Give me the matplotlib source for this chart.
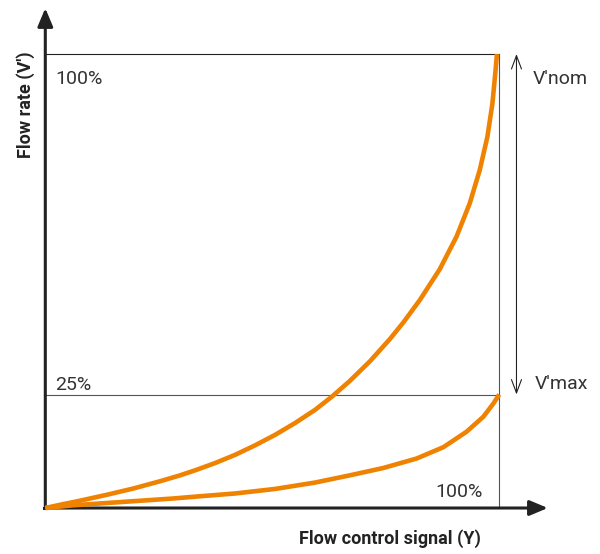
import numpy as np
import matplotlib
matplotlib.use("Agg")
import matplotlib.pyplot as plt

plt.rcParams['font.family'] = ['Roboto', 'DejaVu Sans']

# Flow control signal Y [%] vs. flow rate V' [%]
signal_upper = [0, 3.2, 7.6, 13.5, 19.4, 25.3, 29.7, 33.0, 37.4, 41.8, 46.2, 50.6, 55.0, 59.4,
                63.1, 67.1, 71.5, 75.9, 78.9, 82.5, 86.9, 90.6, 93.5, 95.7, 97.4, 98.5, 99.2, 99.5]
flow_upper = [0, 0.7, 1.6, 2.9, 4.3, 5.9, 7.2, 8.3, 9.9, 11.7, 13.8, 16.1, 18.7, 21.6,
              24.5, 28.0, 32.3, 37.2, 40.9, 45.8, 52.6, 59.8, 67.1, 74.4, 81.8, 89.1, 96.5, 100]

signal_lower = [0, 6.2, 13.5, 20.9, 28.2, 33.0, 41.8, 50.6, 59.4, 67.1, 74.4, 81.8, 87.7,
                92.8, 96.5, 98.7, 100]
flow_lower = [0, 0.6, 1.1, 1.6, 2.1, 2.5, 3.2, 4.2, 5.6, 7.2, 8.8, 10.9, 13.4,
              16.8, 20.1, 23.0, 25]

v_nom = 100  # [%]
v_max = 25   # [%]
y_max = 100  # [%]

orange = '#ef8200'
dark = '#222222'
text_col = '#333333'

fig = plt.figure(figsize=(6, 5.54), dpi=100)
ax = fig.add_axes([0, 0, 1, 1])
ax.set_xlim(-9.98, 122.2)
ax.set_ylim(-10.13, 111.9)
ax.axis('off')

# reference lines
ax.plot([0, y_max], [v_nom, v_nom], color=dark, lw=0.8)
ax.plot([0, y_max], [v_max, v_max], color='#555555', lw=0.8)
ax.plot([y_max, y_max], [0, v_nom], color='#555555', lw=0.8)

# axes with arrows
arrow_style = '-|>,head_length=1.0,head_width=0.42'
ax.annotate('', xy=(0, 110.1), xytext=(0, 0),
            arrowprops=dict(arrowstyle=arrow_style, color=dark, lw=2.2,
                            mutation_scale=11, shrinkA=0, shrinkB=0))
ax.annotate('', xy=(110.7, 0), xytext=(0, 0),
            arrowprops=dict(arrowstyle=arrow_style, color=dark, lw=2.2,
                            mutation_scale=11, shrinkA=0, shrinkB=0))
ax.plot([-0.2, 0], [0, 0], color=dark, lw=2.2, solid_capstyle='projecting')

# curves (on top of the axes)
ax.plot(signal_upper, flow_upper, color=orange, lw=3.3, solid_capstyle='butt',
        solid_joinstyle='round', zorder=5)
ax.plot(signal_lower, flow_lower, color=orange, lw=3.3, solid_capstyle='butt',
        solid_joinstyle='round', zorder=5)

# range arrow V'nom .. V'max
ax.annotate('', xy=(103.8, v_nom), xytext=(103.8, v_max),
            arrowprops=dict(arrowstyle='<->,head_length=0.8,head_width=0.3', color=dark, lw=0.8,
                            mutation_scale=12, shrinkA=0, shrinkB=0))

# labels
ax.text(2.1, 94.5, '100%', fontsize=14, color=text_col, va='center', ha='left')
ax.text(2.1, 27.2, '25%', fontsize=14, color=text_col, va='center', ha='left')
ax.text(96.3, 3.5, '100%', fontsize=14, color=text_col, va='center', ha='right')
ax.text(107.4, 94.5, "V'nom", fontsize=14, color=text_col, va='center', ha='left')
ax.text(107.9, 27.3, "V'max", fontsize=14, color=text_col, va='center', ha='left')

ax.text(75.9, -6.8, 'Flow control signal (Y)', fontsize=13, fontweight='bold', color=dark,
        va='center', ha='center')
ax.text(-4.25, 88.8, "Flow rate (V')", fontsize=13, fontweight='bold', color=dark,
        va='center', ha='center', rotation=90)

fig.savefig('out.png', dpi=100, facecolor='white')
